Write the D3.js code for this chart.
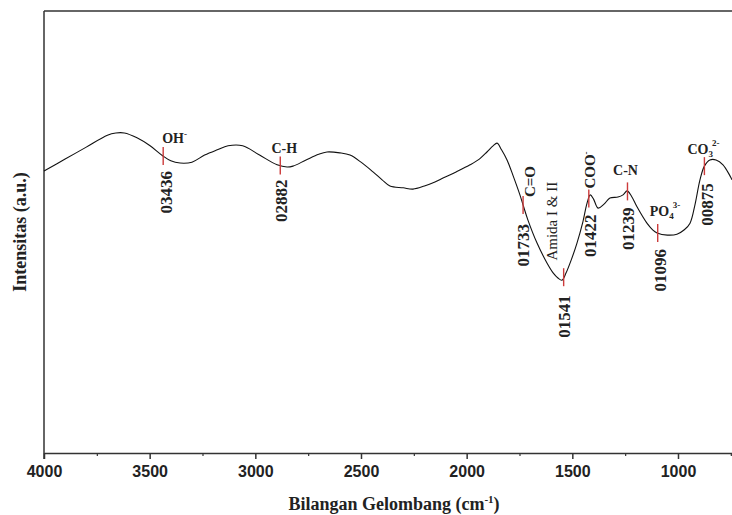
<!DOCTYPE html>
<html>
<head>
<meta charset="utf-8">
<script src="https://cdn.jsdelivr.net/npm/d3@7"></script>
<style>
  body { margin: 0; background: #fff; }
  svg { display: block; }
</style>
</head>
<body>
<svg id="chart" width="732" height="515"></svg>
<script>
// spectrum (wavenumber, intensity a.u.)
const wavenumbers = [4000, 3900, 3800, 3700, 3660, 3620, 3560, 3498, 3437, 3400,
  3356, 3300, 3240, 3180, 3129, 3060, 2980, 2897, 2850, 2822,
  2760, 2700, 2661, 2600, 2552, 2500, 2443, 2400, 2363, 2300,
  2254, 2200, 2150, 2112, 2050, 1984, 1940, 1904, 1875, 1856,
  1835, 1809, 1780, 1748, 1733, 1710, 1667, 1620, 1590, 1568,
  1549, 1530, 1505, 1478, 1450, 1430, 1415, 1400, 1378, 1350,
  1322, 1284, 1260, 1241, 1220, 1194, 1147, 1120, 1099, 1050,
  1005, 970, 943, 920, 896, 875, 849, 820, 787, 744];
const intensity = [63.8, 66.5, 69.2, 71.9, 72.4, 72.4, 71.3, 69.5, 67.2, 66.1,
  65.6, 65.8, 67.4, 68.6, 69.5, 69.5, 67.4, 65.2, 64.7, 64.9,
  66.3, 67.6, 68.1, 67.9, 67.4, 65.8, 63.6, 61.8, 60.4, 60.0,
  59.7, 60.4, 61.3, 62.2, 63.6, 65.2, 66.5, 68.1, 69.5, 70.1,
  68.6, 66.3, 62.7, 58.4, 56.1, 52.7, 47.5, 43.0, 40.7, 39.6,
  39.1, 40.7, 43.7, 47.5, 52.3, 56.6, 58.4, 57.5, 55.4, 56.3,
  57.7, 57.9, 58.4, 59.3, 58.1, 55.7, 52.0, 50.5, 49.8, 49.3,
  49.5, 50.5, 52.0, 56.1, 61.8, 64.9, 66.3, 66.3, 65.2, 61.8];

const peaks = [3436, 2882, 1733, 1541, 1422, 1239, 1096, 875];
const peakNames = ["03436", "02882", "01733", "01541", "01422", "01239", "01096", "00875"];
const tickValues = [4000, 3500, 3000, 2500, 2000, 1500, 1000];
const minorTicks = [3750, 3250, 2750, 2250, 1750, 1250, 750];

const svg = d3.select("#chart");
const margin = {top: 11, left: 44, bottom: 62};
const height = 515;

const x = d3.scaleLinear().domain([4000, 400]).range([margin.left, margin.left + 3600 * 0.21133]);
const y = d3.scaleLinear().domain([0, 100]).range([height - margin.bottom, margin.top]);

const data = wavenumbers.map((w, i) => ({w: w, v: intensity[i]}));

// intensity on the curve at a given wavenumber (linear between read points)
function valueAt(w) {
    for (let i = 0; i < data.length - 1; i++) {
        let a = data[i], b = data[i + 1];
        if (w <= a.w && w >= b.w) {
            let t = (a.w - w) / (a.w - b.w);
            return a.v + t * (b.v - a.v);
        }
    }
    return data[data.length - 1].v;
}

const ink = "#333";
const serif = "'Liberation Serif', 'Times New Roman', serif";
const sans = "'Liberation Sans', Arial, sans-serif";

// frame
svg.append("line")
    .attr("x1", margin.left).attr("x2", 900)
    .attr("y1", margin.top).attr("y2", margin.top)
    .attr("stroke", ink).attr("stroke-width", 1.5);
svg.append("line")
    .attr("x1", margin.left).attr("x2", margin.left)
    .attr("y1", margin.top).attr("y2", y(0) + 6)
    .attr("stroke", ink).attr("stroke-width", 1.5);

// x axis
const xAxis = svg.append("g")
    .attr("transform", `translate(0,${y(0)})`)
    .call(d3.axisBottom(x).tickValues(tickValues).tickFormat(d3.format("d"))
        .tickSize(6).tickSizeOuter(0).tickPadding(7));
xAxis.select(".domain").attr("stroke", ink).attr("stroke-width", 1.5);
xAxis.selectAll(".tick line").attr("stroke", ink).attr("stroke-width", 1.5);
xAxis.selectAll(".tick text")
    .attr("font-family", sans).attr("font-weight", "bold").attr("font-size", 16).attr("fill", "#222");

const minor = svg.append("g")
    .attr("transform", `translate(0,${y(0)})`)
    .call(d3.axisBottom(x).tickValues(minorTicks).tickSize(3).tickFormat(""));
minor.select(".domain").remove();
minor.selectAll(".tick line").attr("stroke", ink).attr("stroke-width", 1.2);

// axis titles
const xt = svg.append("text")
    .attr("x", 394).attr("y", 510)
    .attr("text-anchor", "middle")
    .attr("font-family", serif).attr("font-weight", "bold").attr("font-size", 18).attr("fill", "#222");
xt.append("tspan").text("Bilangan Gelombang (cm");
xt.append("tspan").attr("font-size", 11).attr("dy", -7).text("-1");
xt.append("tspan").attr("dy", 7).text(")");

svg.append("text")
    .attr("transform", `translate(26,232) rotate(-90)`)
    .attr("text-anchor", "middle")
    .attr("font-family", serif).attr("font-weight", "bold").attr("font-size", 18).attr("fill", "#222")
    .text("Intensitas (a.u.)");

// spectrum
const line = d3.line()
    .x(d => x(d.w))
    .y(d => y(d.v))
    .curve(d3.curveCatmullRom.alpha(0.5));

svg.append("path")
    .datum(data)
    .attr("d", line)
    .attr("fill", "none")
    .attr("stroke", "#111")
    .attr("stroke-width", 1.1);

// peak markers
const markers = peaks.map(w => ({w: w, px: x(w), py: y(valueAt(w))}));

svg.selectAll(".marker")
    .data(markers)
    .join("line")
    .attr("class", "marker")
    .attr("x1", d => d.px).attr("x2", d => d.px)
    .attr("y1", d => d.py - 9).attr("y2", d => d.py + 9)
    .attr("stroke", "#cc3b3b").attr("stroke-width", 1.4);

// wavenumber labels, rotated, hanging below each marker
const numOffset = [15, 14, 19, 18, 16, 16, 16, 17];
const numDx = [3, 1, 0, 0, 1, 1, 2, 3];
svg.selectAll(".peakNum")
    .data(markers)
    .join("text")
    .attr("class", "peakNum")
    .attr("transform", (d, i) => `translate(${d.px + numDx[i] + 6},${d.py + numOffset[i]}) rotate(-90)`)
    .attr("text-anchor", "end")
    .attr("font-family", serif).attr("font-weight", "bold").attr("font-size", 17).attr("fill", "#222")
    .text((d, i) => peakNames[i]);

// group labels
function label(g, px, py, rotated) {
    let t = svg.append("text")
        .attr("font-family", serif).attr("font-weight", "bold").attr("font-size", 14).attr("fill", "#222");
    if (rotated) t.attr("transform", `translate(${px},${py}) rotate(-90)`);
    else t.attr("x", px).attr("y", py);
    g(t);
    return t;
}
const m = markers;

label(t => {
    t.append("tspan").text("OH");
    t.append("tspan").attr("font-size", 9).attr("dy", -6).text("-");
}, m[0].px - 1, m[0].py - 13);

label(t => t.attr("text-anchor", "middle").text("C-H"), m[1].px + 4, m[1].py - 13);

label(t => t.attr("font-size", 15).text("C=O"), m[2].px + 12, m[2].py - 8, true);

label(t => t.attr("font-weight", "normal").attr("font-size", 15).attr("text-anchor", "middle")
    .text("Amida I & II"), m[3].px - 7, m[3].py - 56, true);

label(t => {
    t.attr("font-size", 15);
    t.append("tspan").text("COO");
    t.append("tspan").attr("font-size", 9).attr("dy", -6).text("-");
}, m[4].px + 6, m[4].py - 10, true);

label(t => t.attr("text-anchor", "middle").text("C-N"), m[5].px - 2, m[5].py - 16);

label(t => {
    t.append("tspan").text("PO");
    t.append("tspan").attr("font-size", 9).attr("dy", 3).text("4");
    t.append("tspan").attr("font-size", 9).attr("dy", -11).attr("dx", -1).text("3-");
}, m[6].px - 8, m[6].py - 17);

label(t => {
    t.append("tspan").text("CO");
    t.append("tspan").attr("font-size", 9).attr("dy", 3).text("3");
    t.append("tspan").attr("font-size", 9).attr("dy", -11).attr("dx", -1).text("2-");
}, m[7].px - 17, m[7].py - 12);
</script>
</body>
</html>
